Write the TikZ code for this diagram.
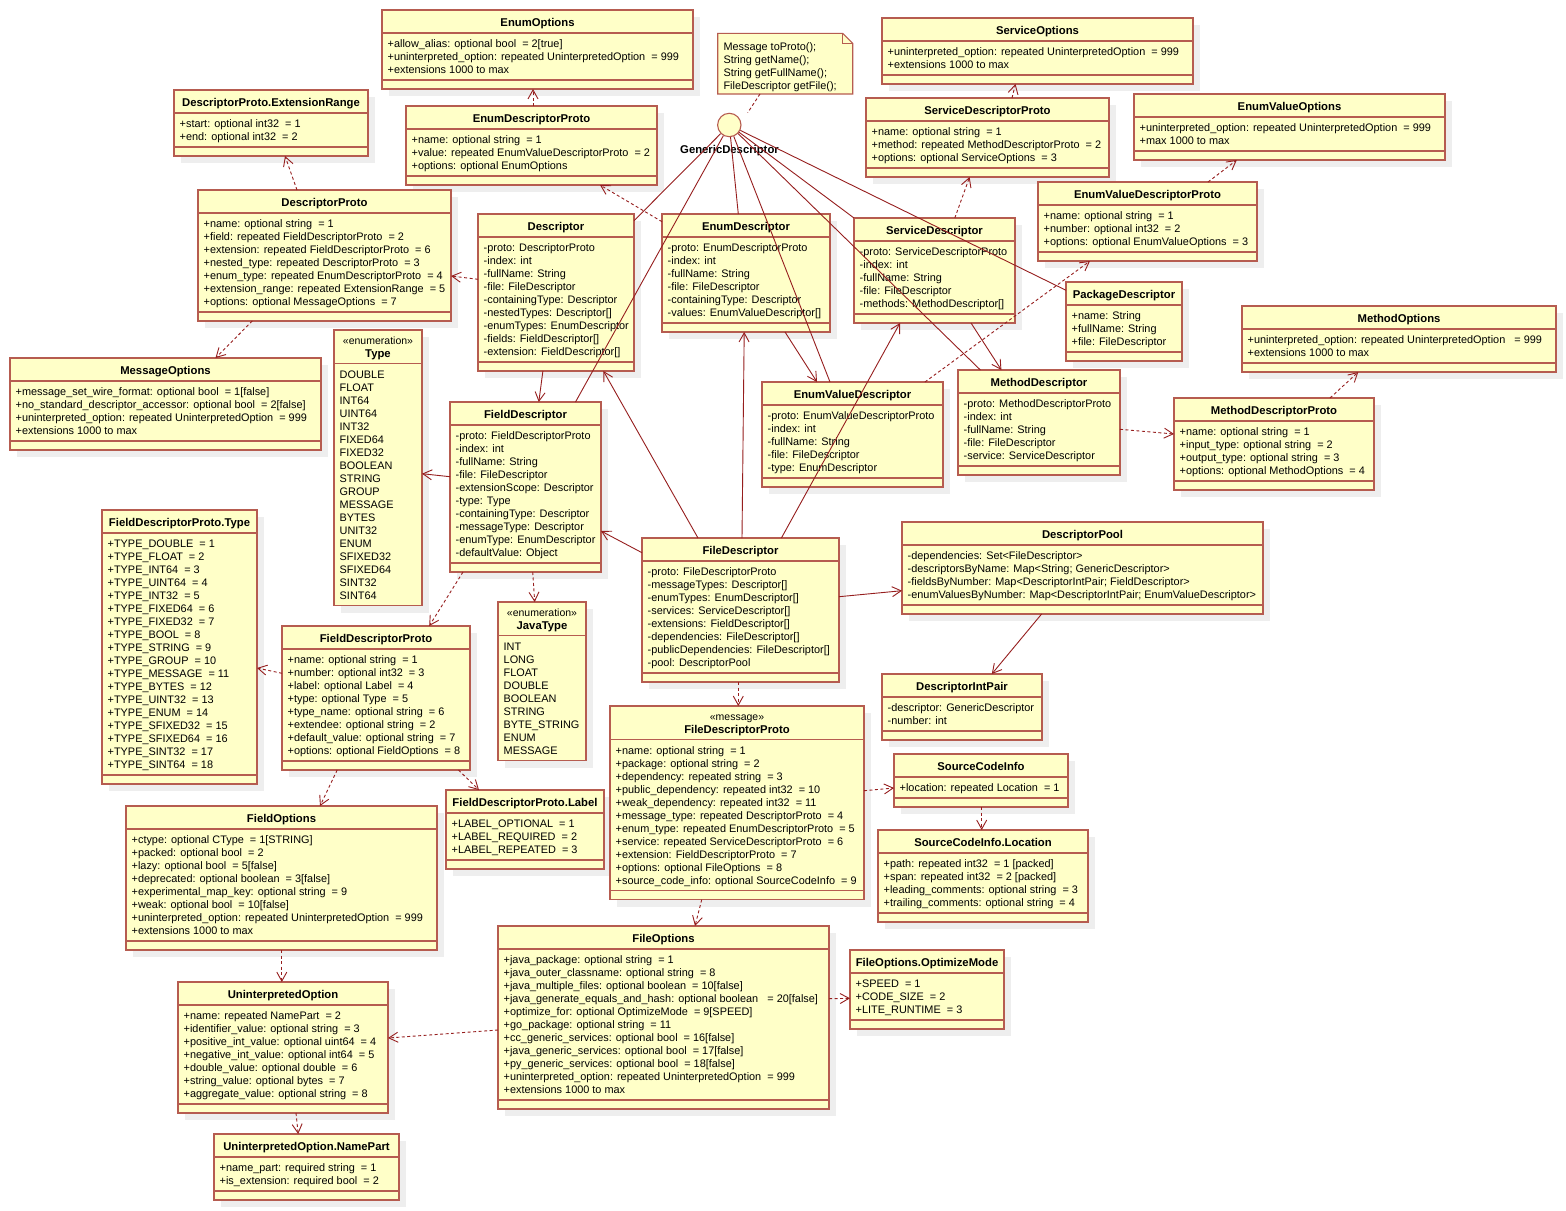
\documentclass[tikz,border=0pt]{standalone}
\usepackage{fontspec}
\setmainfont{Liberation Sans}
\usetikzlibrary{arrows.meta}
\pgfdeclarelayer{background}
\pgfsetlayers{background,main}
\definecolor{boxfill}{RGB}{255,255,200}
\definecolor{boxc}{RGB}{182,92,80}
\definecolor{linec}{RGB}{150,30,30}
\definecolor{shadowc}{RGB}{238,238,238}
\tikzset{
  boxst/.style={draw=boxc, fill=boxfill, line width=1.1pt, inner sep=0pt, outer sep=0pt, rectangle},
  sepl/.style={draw=boxc, line width=1.1pt},
  attr/.style={inner sep=0pt, font=\fontsize{10.9}{13}\selectfont, text=black},
  ttl/.style={inner sep=0pt, font=\fontsize{11.3}{13}\selectfont\bfseries, text=black},
  stx/.style={inner sep=0pt, font=\fontsize{10.5}{13}\selectfont, text=black},
  assoc/.style={draw=linec, line width=0.9pt, -{Straight Barb[length=9pt,width=10pt]}},
  dep/.style={assoc, dash pattern=on 3pt off 2.5pt},
  gline/.style={draw=linec, line width=0.9pt},
  noteline/.style={draw=linec, line width=0.9pt, dash pattern=on 3pt off 2.5pt},
}
\newcommand\umlbody[7]{%
  \foreach \xx [count=\ii] in {#7} {\xdef\nlines{\ii}}%
  \pgfmathsetmacro\ysa{#3+#5}%
  \pgfmathsetmacro\ysb{\ysa+\nlines*13+8}%
  \pgfmathsetmacro\ysc{\ysb+#6}%
  \pgfmathsetmacro\bxw{#4-#2}%
  \pgfmathsetmacro\bxh{\ysc-#3}%
  \begin{pgfonlayer}{background}\fill[shadowc] (#2+7,#3+7) rectangle (#4+7,\ysc+7);\end{pgfonlayer}%
  \node[boxst, minimum width=\bxw pt, minimum height=\bxh pt, anchor=north west] (#1) at (#2,#3) {};%
  \draw[sepl] (#2,\ysa) -- (#4,\ysa);%
  \ifdim #6pt>0pt \draw[sepl] (#2,\ysb) -- (#4,\ysb);\fi
  \foreach \xx [count=\ii] in {#7} {\node[attr, anchor=base west] (#1-\ii) at (#2+5.5,\ysa+1.7+\ii*13) {\xx};}%
}
\newcommand\cls[6]{\umlbody{#1}{#2}{#3}{#4}{23}{9}{#6}%
  \node[ttl, anchor=base] (#1-title) at ({(#2+#4)/2},#3+16) {#5};}
\newcommand\stc[8]{\umlbody{#1}{#2}{#3}{#4}{33.7}{#8}{#7}%
  \node[stx, anchor=base] (#1-st) at ({(#2+#4)/2},#3+14) {#5};%
  \node[ttl, anchor=base] (#1-title) at ({(#2+#4)/2},#3+27.5) {#6};}
\begin{document}
\begin{tikzpicture}[x=1pt,y=-1pt]
\useasboundingbox (0,0) rectangle (1566,1210);
\begin{pgfonlayer}{background}\fill[white] (0,0) rectangle (1566,1210);\end{pgfonlayer}

% ---------- classes ----------
\cls{eo}{382}{10}{693}{EnumOptions}{+allow\_alias: optional bool~ = 2[true],+uninterpreted\_option: repeated UninterpretedOption~ = 999,+extensions 1000 to max}
\cls{er}{174}{90}{368}{DescriptorProto.ExtensionRange}{+start: optional int32~ = 1,+end: optional int32~ = 2}
\cls{edp}{406}{106}{657}{EnumDescriptorProto}{+name: optional string~ = 1,+value: repeated EnumValueDescriptorProto~ = 2,+options: optional EnumOptions}
\cls{dp}{198}{190}{451}{DescriptorProto}{+name: optional string~ = 1,+field: repeated FieldDescriptorProto~ = 2,+extension: repeated FieldDescriptorProto~ = 6,+nested\_type: repeated DescriptorProto~ = 3,+enum\_type: repeated EnumDescriptorProto~ = 4,+extension\_range: repeated ExtensionRange~ = 5,+options: optional MessageOptions~ = 7}
\cls{desc}{478}{214}{634}{Descriptor}{-proto: DescriptorProto,-index: int,-fullName: String,-file: FileDescriptor,-containingType: Descriptor,-nestedTypes: Descriptor[],-enumTypes: EnumDescriptor,-fields: FieldDescriptor[],-extension: FieldDescriptor[]}
\cls{ed}{662}{214}{830}{EnumDescriptor}{-proto: EnumDescriptorProto,-index: int,-fullName: String,-file: FileDescriptor,-containingType: Descriptor,-values: EnumValueDescriptor[]}
\cls{so}{882}{18}{1193}{ServiceOptions}{+uninterpreted\_option: repeated UninterpretedOption~ = 999,+extensions 1000 to max}
\cls{sdp}{866}{98}{1109}{ServiceDescriptorProto}{+name: optional string~ = 1,+method: repeated MethodDescriptorProto~ = 2,+options: optional ServiceOptions~ = 3}
\cls{evo}{1134}{94}{1445}{EnumValueOptions}{+uninterpreted\_option: repeated UninterpretedOption~ = 999,+max 1000 to max}
\cls{evdp}{1038}{182}{1257}{EnumValueDescriptorProto}{+name: optional string~ = 1,+number: optional int32~ = 2,+options: optional EnumValueOptions~ = 3}
\cls{sd}{854}{218}{1015}{ServiceDescriptor}{-proto: ServiceDescriptorProto,-index: int,-fullName: String,-file: FileDescriptor,-methods: MethodDescriptor[]}
\cls{pd}{1066}{282}{1182}{PackageDescriptor}{+name: String,+fullName: String,+file: FileDescriptor}
\cls{mo}{1242}{306}{1556}{MethodOptions}{+uninterpreted\_option: repeated UninterpretedOption~~ = 999,+extensions 1000 to max}
\cls{mdp}{1174}{398}{1374}{MethodDescriptorProto}{+name: optional string~ = 1,+input\_type: optional string~ = 2,+output\_type: optional string~ = 3,+options: optional MethodOptions~ = 4}
\cls{msgo}{10}{358}{321}{MessageOptions}{+message\_set\_wire\_format: optional bool~ = 1[false],+no\_standard\_descriptor\_accessor: optional bool~ = 2[false],+uninterpreted\_option: repeated UninterpretedOption~ = 999,+extensions 1000 to max}
\stc{type}{334}{330}{422}{«enumeration»}{Type}{DOUBLE,FLOAT,INT64,UINT64,INT32,FIXED64,FIXED32,BOOLEAN,STRING,GROUP,MESSAGE,BYTES,UNIT32,ENUM,SFIXED32,SFIXED64,SINT32,SINT64}{0}
\cls{fd}{450}{402}{601}{FieldDescriptor}{-proto: FieldDescriptorProto,-index: int,-fullName: String,-file: FileDescriptor,-extensionScope: Descriptor,-type: Type,-containingType: Descriptor,-messageType: Descriptor,-enumType: EnumDescriptor,-defaultValue: Object}
\cls{fdpt}{102}{510}{257}{FieldDescriptorProto.Type}{+TYPE\_DOUBLE~ = 1,+TYPE\_FLOAT~ = 2,+TYPE\_INT64~ = 3,+TYPE\_UINT64~ = 4,+TYPE\_INT32~ = 5,+TYPE\_FIXED64~ = 6,+TYPE\_FIXED32~ = 7,+TYPE\_BOOL~ = 8,+TYPE\_STRING~ = 9,+TYPE\_GROUP~ = 10,+TYPE\_MESSAGE~ = 11,+TYPE\_BYTES~ = 12,+TYPE\_UINT32~ = 13,+TYPE\_ENUM~ = 14,+TYPE\_SFIXED32~ = 15,+TYPE\_SFIXED64~ = 16,+TYPE\_SINT32~ = 17,+TYPE\_SINT64~ = 18}
\cls{fdp}{282}{626}{470}{FieldDescriptorProto}{+name: optional string~ = 1,+number: optional int32~ = 3,+label: optional Label~ = 4,+type: optional Type~ = 5,+type\_name: optional string~ = 6,+extendee: optional string~ = 2,+default\_value: optional string~ = 7,+options: optional FieldOptions~ = 8}
\stc{jt}{498}{602}{586}{«enumeration»}{JavaType}{INT,LONG,FLOAT,DOUBLE,BOOLEAN,STRING,BYTE\_STRING,ENUM,MESSAGE}{0}
\cls{lbl}{446}{790}{604}{FieldDescriptorProto.Label}{+LABEL\_OPTIONAL~ = 1,+LABEL\_REQUIRED~ = 2,+LABEL\_REPEATED~ = 3}
\cls{fo}{126}{806}{437}{FieldOptions}{+ctype: optional CType~ = 1[STRING],+packed: optional bool~ = 2,+lazy: optional bool~ = 5[false],+deprecated: optional boolean~ = 3[false],+experimental\_map\_key: optional string~ = 9,+weak: optional bool~ = 10[false],+uninterpreted\_option: repeated UninterpretedOption~ = 999,+extensions 1000 to max}
\cls{uo}{178}{982}{388}{UninterpretedOption}{+name: repeated NamePart~ = 2,+identifier\_value: optional string~ = 3,+positive\_int\_value: optional uint64~ = 4,+negative\_int\_value: optional int64~ = 5,+double\_value: optional double~ = 6,+string\_value: optional bytes~ = 7,+aggregate\_value: optional string~ = 8}
\cls{np}{214}{1134}{399}{UninterpretedOption.NamePart}{+name\_part: required string~ = 1,+is\_extension: required bool~ = 2}
\cls{fopt}{498}{926}{829}{FileOptions}{+java\_package: optional string~ = 1,+java\_outer\_classname: optional string~ = 8,+java\_multiple\_files: optional boolean~ = 10[false],+java\_generate\_equals\_and\_hash: optional boolean~~ = 20[false],+optimize\_for: optional OptimizeMode~ = 9[SPEED],+go\_package: optional string~ = 11,+cc\_generic\_services: optional bool~ = 16[false],+java\_generic\_services: optional bool~ = 17[false],+py\_generic\_services: optional bool~ = 18[false],+uninterpreted\_option: repeated UninterpretedOption~ = 999,+extensions 1000 to max}
\cls{om}{850}{950}{1004}{FileOptions.OptimizeMode}{+SPEED~ = 1,+CODE\_SIZE~ = 2,+LITE\_RUNTIME~ = 3}
\cls{fdesc}{642}{538}{839}{FileDescriptor}{-proto: FileDescriptorProto,-messageTypes: Descriptor[],-enumTypes: EnumDescriptor[],-services: ServiceDescriptor[],-extensions: FieldDescriptor[],-dependencies: FileDescriptor[],-publicDependencies: FileDescriptor[],-pool: DescriptorPool}
\cls{evd}{762}{382}{943}{EnumValueDescriptor}{-proto: EnumValueDescriptorProto,-index: int,-fullName: String,-file: FileDescriptor,-type: EnumDescriptor}
\cls{md}{958}{370}{1120}{MethodDescriptor}{-proto: MethodDescriptorProto,-index: int,-fullName: String,-file: FileDescriptor,-service: ServiceDescriptor}
\cls{pool}{902}{522}{1263}{DescriptorPool}{-dependencies: Set<FileDescriptor>,-descriptorsByName: Map<String; GenericDescriptor>,-fieldsByNumber: Map<DescriptorIntPair; FieldDescriptor>,-enumValuesByNumber: Map<DescriptorIntPair; EnumValueDescriptor>}
\cls{dip}{882}{674}{1042}{DescriptorIntPair}{-descriptor: GenericDescriptor,-number: int}
\stc{fdpr}{610}{706}{864}{«message»}{FileDescriptorProto}{+name: optional string~ = 1,+package: optional string~ = 2,+dependency: repeated string~ = 3,+public\_dependency: repeated int32~ = 10,+weak\_dependency: repeated int32~ = 11,+message\_type: repeated DescriptorProto~ = 4,+enum\_type: repeated EnumDescriptorProto~ = 5,+service: repeated ServiceDescriptorProto~ = 6,+extension: FieldDescriptorProto~ = 7,+options: optional FileOptions~ = 8,+source\_code\_info: optional SourceCodeInfo~ = 9}{9}
\cls{sci}{894}{754}{1068}{SourceCodeInfo}{+location: repeated Location~ = 1}
\cls{loc}{878}{830}{1088}{SourceCodeInfo.Location}{+path: repeated int32~ = 1 [packed],+span: repeated int32~ = 2 [packed],+leading\_comments: optional string~ = 3,+trailing\_comments: optional string~ = 4}

% ---------- note and interface ----------
\node[inner sep=0pt, outer sep=0pt, minimum width=135pt, minimum height=60.7pt, anchor=north west] (note) at (717.7,33.3) {};
\draw[boxc, fill=boxfill, line width=1.1pt] (note.north west) -- ([xshift=-10]note.north east) -- ([yshift=-10]note.north east) -- (note.south east) -- (note.south west) -- cycle;
\draw[boxc, line width=1.1pt] ([xshift=-10]note.north east) -- ([xshift=-10,yshift=-10]note.north east) -- ([yshift=-10]note.north east);
\foreach \xx [count=\ii] in {Message toProto();,String getName();,String getFullName();,FileDescriptor getFile();}
  {\node[attr, anchor=base west] (note-\ii) at (723.3,33.3+3.7+\ii*13) {\xx};}
\node[circle, draw=boxc, fill=boxfill, line width=1.1pt, minimum size=23.4pt, inner sep=0pt] (gd) at (729.3,125) {};
\node[ttl, anchor=base] (gd-label) at (729.5,153) {GenericDescriptor};
\draw[noteline] ([xshift=42.3]note.south west) -- ([xshift=18.4,yshift=12.3]gd.center);

% ---------- dependencies (dashed) ----------
\draw[dep] ([xshift=99]dp.north west) -- ([xshift=111]er.south west);
\draw[dep] ([yshift=-65.3]desc.north west) -- ([yshift=-86]dp.north east);
\draw[dep] ([xshift=54.3]dp.south west) -- ([xshift=205.5]msgo.north west);
\draw[dep] ([yshift=-7.7]ed.north west) -- ([xshift=194]edp.south west);
\draw[dep] ([xshift=127]edp.north west) -- ([xshift=151]eo.south west);
\draw[dep] ([xshift=146]sdp.north west) -- ([xshift=133.5]so.south west);
\draw[dep] ([xshift=100.8]sd.north west) -- ([xshift=103.6]sdp.south west);
\draw[dep] ([xshift=170]evdp.north west) -- ([xshift=102.8]evo.south west);
\draw[dep] ([xshift=162.9]evd.north west) -- ([xshift=52]evdp.south west);
\draw[dep] ([yshift=-59.3]md.north east) -- ([yshift=-36]mdp.north west);
\draw[dep] ([xshift=156]mdp.north west) -- ([xshift=116.3]mo.south west);
\draw[dep] ([xshift=82.7]fd.south west) -- ([xshift=36.7]jt.north west);
\draw[dep] ([xshift=13]fd.south west) -- ([xshift=147.2]fdp.north west);
\draw[dep] ([yshift=-47.3]fdp.north west) -- ([yshift=-158]fdpt.north east);
\draw[dep] ([xshift=55.2]fdp.south west) -- ([xshift=194]fo.north west);
\draw[dep] ([xshift=176.5]fdp.south west) -- ([xshift=33]lbl.north west);
\draw[dep] ([xshift=155.8]fo.south west) -- ([xshift=103.8]uo.north west);
\draw[dep] ([xshift=118]uo.south west) -- ([xshift=84.2]np.north west);
\draw[dep] ([yshift=-104]fopt.north west) -- ([yshift=-56]uo.north east);
\draw[dep] ([yshift=-72.7]fopt.north east) -- ([yshift=-48.3]om.north west);
\draw[dep] ([xshift=96.3]fdesc.south west) -- ([xshift=128.3]fdpr.north west);
\draw[dep] ([yshift=-84.7]fdpr.north east) -- ([yshift=-34]sci.north west);
\draw[dep] ([xshift=91.7]fdpr.south west) -- ([xshift=197]fopt.north west);
\draw[dep] ([xshift=87.7]sci.south west) -- ([xshift=103.7]loc.north west);

% ---------- associations ----------
\draw[assoc] ([yshift=-74.7]fd.north west) -- ([yshift=-143.7]type.north east);
\draw[assoc] ([xshift=64.9]desc.south west) -- ([xshift=88.8]fd.north west);
\draw[assoc] ([yshift=-14.7]fdesc.north west) -- ([yshift=-129]fd.north east);
\draw[assoc] ([xshift=56]fdesc.north west) -- ([xshift=125.4]desc.south west);
\draw[assoc] ([xshift=100]fdesc.north west) -- ([xshift=82.2]ed.south west);
\draw[assoc] ([xshift=139.4]fdesc.north west) -- ([xshift=46]sd.south west);
\draw[assoc] ([yshift=-58.7]fdesc.north east) -- ([yshift=-68.7]pool.north west);
\draw[assoc] ([xshift=123]ed.south west) -- ([xshift=55]evd.north west);
\draw[assoc] ([xshift=117]sd.south west) -- ([xshift=43.4]md.north west);
\draw[assoc] ([xshift=139.6]pool.south west) -- ([xshift=109.8]dip.north west);

% ---------- realizations of GenericDescriptor ----------
\draw[gline] (gd) -- ([yshift=-6.7]desc.north east);
\draw[gline] (gd) -- ([xshift=125.5]fd.north west);
\draw[gline] (gd) -- ([xshift=76.3]ed.north west);
\draw[gline] (gd) -- ([xshift=68]evd.north west);
\draw[gline] (gd) -- (sd.north west);
\draw[gline] (gd) -- ([xshift=22.4]md.north west);
\draw[gline] (gd) -- ([yshift=-8.3]pd.north west);
\end{tikzpicture}
\end{document}
